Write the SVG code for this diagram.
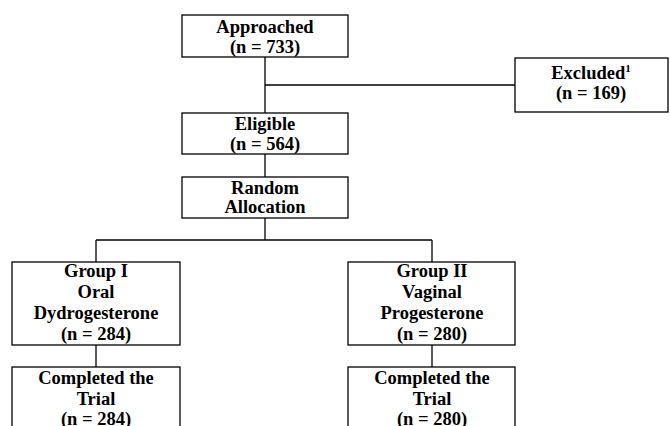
<svg xmlns="http://www.w3.org/2000/svg" width="670" height="426" viewBox="0 0 670 426">
<style>
.box{fill:#fff;stroke:#000;stroke-width:1.3}
.ln{fill:none;stroke:#000;stroke-width:1.3}
text{font-family:"Liberation Serif","Times New Roman",serif;font-weight:bold;font-size:18.5px;text-anchor:middle;fill:#000}
</style>
<rect width="670" height="426" fill="#fff"/>
<g id="connectors">
<path class="ln" d="M265 57V113M265 85H515M265 154V177M265 218V240M96 240H432M96 240V262M432 240V262M96 345V367M432 345V367"/>
</g>
<g id="approached"><rect class="box" x="182" y="15" width="166" height="42"/><text x="265" y="33">Approached</text><text x="265" y="53">(n = 733)</text></g>
<g id="excluded"><rect class="box" x="515" y="58" width="153" height="54"/><text x="591" y="79">Excluded<tspan font-size="11" dy="-7">1</tspan></text><text x="591" y="99">(n = 169)</text></g>
<g id="eligible"><rect class="box" x="182" y="113" width="166" height="41"/><text x="265" y="130">Eligible</text><text x="265" y="150">(n = 564)</text></g>
<g id="random"><rect class="box" x="182" y="177" width="166" height="41"/><text x="265" y="194">Random</text><text x="265" y="213">Allocation</text></g>
<g id="group1"><rect class="box" x="12" y="262" width="168" height="83"/><text x="96" y="277">Group I</text><text x="96" y="298">Oral</text><text x="96" y="319">Dydrogesterone</text><text x="96" y="340">(n = 284)</text></g>
<g id="group2"><rect class="box" x="348" y="262" width="167" height="83"/><text x="432" y="277">Group II</text><text x="432" y="298">Vaginal</text><text x="432" y="319">Progesterone</text><text x="432" y="340">(n = 280)</text></g>
<g id="completed1"><rect class="box" x="12" y="367" width="168" height="70"/><text x="96" y="384">Completed the</text><text x="96" y="405">Trial</text><text x="96" y="425">(n = 284)</text></g>
<g id="completed2"><rect class="box" x="348" y="367" width="167" height="70"/><text x="432" y="384">Completed the</text><text x="432" y="405">Trial</text><text x="432" y="425">(n = 280)</text></g>
</svg>
